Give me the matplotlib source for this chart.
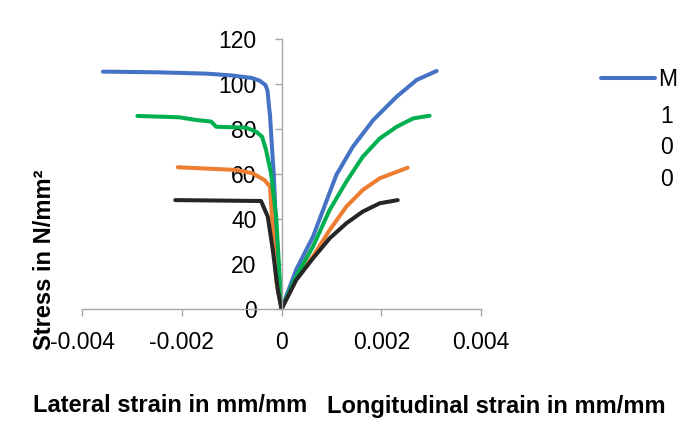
import matplotlib
matplotlib.use("Agg")
import matplotlib.pyplot as plt

plt.rcParams['font.family'] = ['Liberation Sans', 'DejaVu Sans']

# strain (mm/mm) and stress (N/mm2); lateral part negative, then longitudinal
blue_x = [-0.00358, -0.0025, -0.0015, -0.001, -0.0006, -0.00044, -0.00032, -0.00028,
          -0.00025, -0.00023, -0.0002, -0.000155, -0.000107, -0.00005, 0,
          0.000295, 0.00063, 0.0011, 0.00143, 0.00184, 0.00231, 0.00271, 0.00311]
blue_y = [105.5, 105.2, 104.6, 103.8, 102.7, 101.5, 99.5, 97,
          90, 86, 75, 60, 35, 15, 0,
          17.5, 32.1, 59.6, 72.1, 84, 94.4, 101.8, 105.8]

green_x = [-0.00289, -0.00205, -0.00171, -0.00141, -0.00131, -0.00071, -0.00051,
           -0.00039, -0.00031, -0.00021, -0.000107, 0,
           0.000295, 0.00063, 0.000965, 0.0013, 0.00163, 0.00197, 0.00231, 0.00264, 0.00297]
green_y = [85.8, 85.2, 84.0, 83.3, 81.0, 80.6, 78.8,
           76.6, 70.7, 60.3, 41, 0,
           14.5, 27.7, 44, 56.6, 67.7, 75.8, 81, 84.7, 85.9]

orange_x = [-0.00208, -0.00091, -0.00058, -0.00034, -0.00023, -0.000174, -0.000107, 0,
            0.000295, 0.00063, 0.000965, 0.0013, 0.00163, 0.00197, 0.00253]
orange_y = [63.0, 61.8, 60.3, 57.3, 54.4, 35.1, 12.9, 0,
            13.3, 23.3, 35.1, 45.5, 52.9, 58.1, 62.8]

black_x = [-0.00213, -0.00041, -0.000275, -0.000174, -0.000074, 0,
           0.000295, 0.00063, 0.000965, 0.0013, 0.00163, 0.00197, 0.00233]
black_y = [48.4, 48, 41, 26.2, 8.4, 0,
           12.9, 22.5, 31.4, 38.1, 43.3, 47, 48.4]

x_ticks = [-0.004, -0.002, 0, 0.002, 0.004]
x_tick_labels = ['-0.004', '-0.002', '0', '0.002', '0.004']
y_ticks = [0, 20, 40, 60, 80, 100, 120]

fig = plt.figure(figsize=(6.88, 4.29), dpi=100)
ax = fig.add_axes([82/688, 1 - 309/429, 399/688, 270/429])

lw = 2.9
l_blue, = ax.plot(blue_x, blue_y, color='#4472C4', lw=lw, solid_capstyle='round', solid_joinstyle='round')
ax.plot(orange_x, orange_y, color='#ED7D31', lw=lw, solid_capstyle='round', solid_joinstyle='round')
ax.plot(green_x, green_y, color='#00B050', lw=lw, solid_capstyle='round', solid_joinstyle='round')
ax.plot(black_x, black_y, color='#262626', lw=lw, solid_capstyle='round', solid_joinstyle='round')

ax.set_xlim(-0.004, 0.004)
ax.set_ylim(0, 120)
ax.spines['left'].set_position(('data', 0))
ax.spines['top'].set_visible(False)
ax.spines['right'].set_visible(False)
for s in ['left', 'bottom']:
    ax.spines[s].set_color('#A6A6A6')
    ax.spines[s].set_linewidth(1)

ax.set_xticks(x_ticks)
ax.set_xticklabels(x_tick_labels)
ax.set_yticks(y_ticks)
ax.tick_params(axis='x', direction='out', length=5, width=1, color='#A6A6A6', pad=11, labelsize=16.5)
ax.tick_params(axis='y', direction='out', length=5, width=1, color='#A6A6A6', pad=13, labelsize=16.5)

fig.text(33/688, 1 - 406/429, 'Lateral strain in mm/mm', fontsize=17, fontweight='bold',
         ha='left', va='center')
fig.text(327/688, 1 - 406/429, 'Longitudinal strain in mm/mm', fontsize=17, fontweight='bold',
         ha='left', va='center')
fig.text(45/688, 1 - 260/429, 'Stress in N/mm²', fontsize=17, fontweight='bold',
         rotation=90, ha='center', va='center')

# legend (label wraps in the original)
leg = fig.legend([l_blue], ['M'], loc='upper left', bbox_to_anchor=(601/688, 1 - 68/429),
                 frameon=False, fontsize=16.5, handlelength=2.35, handletextpad=0.15,
                 borderpad=0, borderaxespad=0)
fig.text(660/688, 1 - 148/429, '1\n0\n0', fontsize=16.5, ha='left', va='center', linespacing=1.45)

fig.savefig('out.png', dpi=100)
